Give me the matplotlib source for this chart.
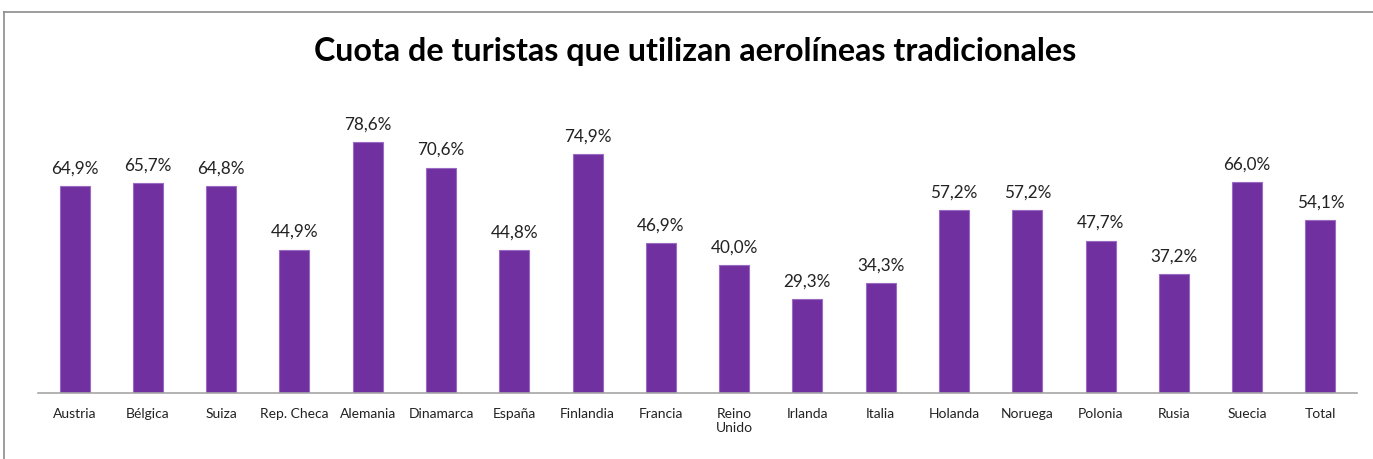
import matplotlib.pyplot as plt
from matplotlib.lines import Line2D

paises = ['Austria', 'Bélgica', 'Suiza', 'Rep. Checa', 'Alemania', 'Dinamarca',
          'España', 'Finlandia', 'Francia', 'Reino\nUnido', 'Irlanda', 'Italia',
          'Holanda', 'Noruega', 'Polonia', 'Rusia', 'Suecia', 'Total']
cuota = [64.9, 65.7, 64.8, 44.9, 78.6, 70.6, 44.8, 74.9, 46.9, 40.0,
         29.3, 34.3, 57.2, 57.2, 47.7, 37.2, 66.0, 54.1]

plt.rcParams['font.family'] = ['Lato', 'DejaVu Sans']

fig = plt.figure(figsize=(13.73, 4.59), dpi=100)
ax = fig.add_axes([38 / 1373, 1 - 393 / 459, 1319 / 1373, 293 / 459])

x = range(len(paises))
barras = ax.bar(x, cuota, width=0.41, color='#7030A0', edgecolor='#9A6BC2', linewidth=0.8)
for b, v in zip(barras, cuota):
    ax.text(b.get_x() + b.get_width() / 2, v + 3, f'{v:.1f}%'.replace('.', ','),
            ha='center', va='bottom', fontsize=12.3, color='#222222')

ax.set_xlim(-0.5, len(paises) - 0.5)
ax.set_ylim(0, 293 / 3.193)
ax.set_xticks(list(x))
ax.set_xticklabels(paises, fontsize=10, color='#222222', va='top')
ax.tick_params(axis='x', length=0, pad=11)
ax.set_yticks([])
for s in ['top', 'right', 'left']:
    ax.spines[s].set_visible(False)
ax.spines['bottom'].set_color('#A6A6A6')
ax.spines['bottom'].set_linewidth(1.2)

fig.text(0.5 + 9 / 1373, 1 - 51 / 459, 'Cuota de turistas que utilizan aerolíneas tradicionales',
         ha='center', va='center', fontsize=23.2, fontweight='bold', color='black')

# marco del gráfico
fig.add_artist(Line2D([4 / 1373, 4 / 1373], [0, 1 - 12 / 459], color='#8C8C8C', lw=1.2))
fig.add_artist(Line2D([4 / 1373, 1], [1 - 12 / 459, 1 - 12 / 459], color='#8C8C8C', lw=1.2))

fig.savefig('out.png', dpi=100)
